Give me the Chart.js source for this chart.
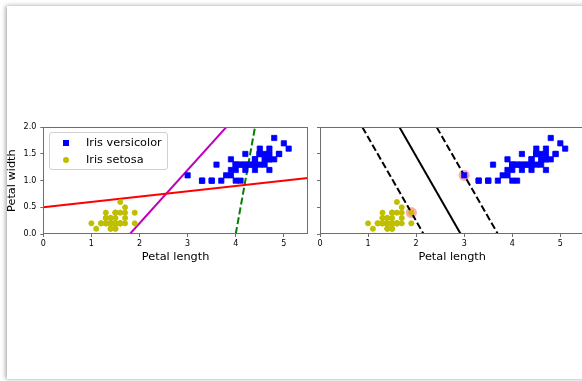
<!DOCTYPE html>
<html><head><meta charset="utf-8">
<script src="https://cdn.jsdelivr.net/npm/chart.js@4/dist/chart.umd.min.js"></script>
<style>
html,body{margin:0;padding:0;background:#fff;width:582px;height:381px;overflow:hidden;}
#card{position:absolute;left:7px;top:6px;width:640px;height:373px;background:#fff;
  box-shadow:-2px 0 4px rgba(0,0,0,0.25),0 -2px 5px rgba(0,0,0,0.08),0 1px 2px rgba(0,0,0,0.08);}
canvas{position:absolute;top:0;}
#c1{left:0;}
#c2{left:300px;}
#legend{position:absolute;left:49px;top:132px;width:119px;height:38px;box-sizing:border-box;
  border:1px solid #d0d0d0;border-radius:3px;background:rgba(255,255,255,0.85);
  font-family:"DejaVu Sans";font-size:11.3px;color:#000;}
.item{position:absolute;left:0;height:14px;line-height:14px;white-space:nowrap;}
.mk{position:absolute;left:13px;top:4px;width:6px;height:6px;}
.lbl{position:absolute;left:36px;top:0;}
</style></head>
<body>
<div id="card"></div>
<canvas id="c1" width="320" height="381"></canvas>
<canvas id="c2" width="290" height="381"></canvas>
<div id="legend"></div>
<script>
// ---- data (Iris petal length / width) ----
const versicolorLength = [4.7,4.5,4.9,4.0,4.6,4.5,4.7,3.3,4.6,3.9,3.5,4.2,4.0,4.7,3.6,4.4,4.5,4.1,4.5,3.9,4.8,4.0,4.9,4.7,4.3,4.4,4.8,5.0,4.5,3.5,3.8,3.7,3.9,5.1,4.5,4.5,4.7,4.4,4.1,4.0,4.4,4.6,4.0,3.3,4.2,4.2,4.2,4.3,3.0,4.1];
const versicolorWidth  = [1.4,1.5,1.5,1.3,1.5,1.3,1.6,1.0,1.3,1.4,1.0,1.5,1.0,1.4,1.3,1.4,1.5,1.0,1.5,1.1,1.8,1.3,1.5,1.2,1.3,1.4,1.4,1.7,1.5,1.0,1.1,1.0,1.2,1.6,1.5,1.6,1.5,1.3,1.3,1.3,1.2,1.4,1.2,1.0,1.3,1.2,1.3,1.3,1.1,1.3];
const setosaLength = [1.4,1.4,1.3,1.5,1.4,1.7,1.4,1.5,1.4,1.5,1.5,1.6,1.4,1.1,1.2,1.5,1.3,1.4,1.7,1.5,1.7,1.5,1.0,1.7,1.9,1.6,1.6,1.5,1.4,1.6,1.6,1.5,1.5,1.4,1.5,1.2,1.3,1.4,1.3,1.5,1.3,1.3,1.3,1.6,1.9,1.4,1.6,1.4,1.5,1.4];
const setosaWidth  = [0.2,0.2,0.2,0.2,0.2,0.4,0.3,0.2,0.2,0.1,0.2,0.2,0.1,0.1,0.2,0.4,0.4,0.3,0.3,0.3,0.2,0.4,0.2,0.5,0.2,0.2,0.4,0.2,0.2,0.2,0.2,0.4,0.1,0.2,0.2,0.2,0.2,0.1,0.2,0.2,0.3,0.3,0.2,0.6,0.4,0.3,0.2,0.2,0.2,0.2];
const supportLength = [1.9, 3.0];
const supportWidth  = [0.4, 1.1];
// line endpoints [x, y]
const greenLine   = [[4.0, 0.0], [4.4, 2.0]];
const magentaLine = [[1.8, 0.0], [3.8, 2.0]];
const redLine     = [[0.0, 0.5], [5.5, 1.05]];
const svmBoundary = [[1.654, 2.0], [2.927, 0.0]];
const svmUpper    = [[2.428, 2.0], [3.700, 0.0]];
const svmLower    = [[0.882, 2.0], [2.155, 0.0]];
const xTicks = [0, 1, 2, 3, 4, 5];
const yTicks = [0.0, 0.5, 1.0, 1.5, 2.0];
const xLabel = "Petal length";
const yLabel = "Petal width";
const seriesNames = ["Iris versicolor", "Iris setosa"];

// ---- helpers ----
const FONT = "DejaVu Sans";
const AX = "#6e6e6e";
const DASH = [7, 3];
const pts = (xs, ys) => xs.map((x, i) => ({x, y: ys[i]}));
const seg = s => s.map(p => ({x: p[0], y: p[1]}));
const lineDs = (s, color, dash) => ({type: 'scatter', data: seg(s), showLine: true, borderColor: color,
  backgroundColor: color, borderWidth: 2, pointRadius: 0, borderDash: dash || [], fill: false});
const versicolorDs = () => ({label: seriesNames[0], data: pts(versicolorLength, versicolorWidth), pointStyle: 'rect',
  pointRadius: 3.7, borderWidth: 0.8, backgroundColor: '#0000FF', borderColor: '#0000FF', showLine: false});
const setosaDs = () => ({label: seriesNames[1], data: pts(setosaLength, setosaWidth), pointStyle: 'circle',
  pointRadius: 2.6, borderWidth: 0.8, backgroundColor: '#BFBF00', borderColor: '#BFBF00', showLine: false});

const frame = {id: 'frame', afterDraw(c) {
  const a = c.chartArea, ctx = c.ctx;
  ctx.save(); ctx.strokeStyle = AX; ctx.lineWidth = 1;
  ctx.strokeRect(Math.round(a.left) + 0.5, Math.round(a.top) + 0.5, Math.round(a.right - a.left) - 1, Math.round(a.bottom - a.top) - 1);
  ctx.restore();
}};

function scales(yW, showY) {
  const grid = {display: true, drawOnChartArea: false, drawTicks: true, tickLength: 3, tickWidth: 1, tickColor: AX};
  return {
    x: {type: 'linear', min: 0, max: 5.5,
      afterBuildTicks: s => { s.ticks = xTicks.map(v => ({value: v})); },
      afterFit: s => { s.height = 30; },
      ticks: {font: {family: FONT, size: 8}, color: '#000', padding: 2, maxRotation: 0, callback: v => String(v)},
      grid, border: {display: false},
      title: {display: true, text: xLabel, font: {family: FONT, size: 11.3}, color: '#000', padding: 0}},
    y: {type: 'linear', min: 0, max: 2,
      afterBuildTicks: s => { s.ticks = yTicks.map(v => ({value: v})); },
      afterFit: s => { s.width = yW; },
      ticks: {display: showY, font: {family: FONT, size: 8}, color: '#000', padding: 4, callback: v => Number(v).toFixed(1)},
      grid, border: {display: false},
      title: {display: showY, text: yLabel, font: {family: FONT, size: 11.3}, color: '#000', padding: {top: 5, bottom: 0}}}
  };
}
const common = {responsive: false, animation: false, events: [],
  plugins: {legend: {display: false}, tooltip: {enabled: false}}};

const chart1 = new Chart(document.getElementById('c1'), {
  type: 'scatter',
  data: {datasets: [versicolorDs(), setosaDs(),
    lineDs(redLine, '#FF0000'), lineDs(magentaLine, '#BF00BF'), lineDs(greenLine, '#008000', DASH)]},
  options: Object.assign({}, common, {layout: {padding: {left: 0.3, top: 127.3, right: 12.1, bottom: 117}},
    scales: scales(43, true)}),
  plugins: [frame]
});

const chart2 = new Chart(document.getElementById('c2'), {
  type: 'scatter',
  data: {datasets: [versicolorDs(), setosaDs(),
    lineDs(svmBoundary, '#000000'), lineDs(svmUpper, '#000000', DASH), lineDs(svmLower, '#000000', DASH),
    {data: pts(supportLength, supportWidth), pointStyle: 'circle', pointRadius: 5.6, borderWidth: 0,
     backgroundColor: '#FFAAAA', showLine: false}]},
  options: Object.assign({}, common, {layout: {padding: {left: 10, top: 127.3, right: 5.4, bottom: 117}},
    scales: scales(10, false)}),
  plugins: [frame]
});

// legend built from the chart's own series
const lg = document.getElementById('legend');
chart1.data.datasets.slice(0, 2).forEach((d, i) => {
  const it = document.createElement('div');
  it.className = 'item';
  it.style.top = (2.5 + i * 17) + 'px';
  const mk = document.createElement('div');
  mk.className = 'mk';
  mk.style.background = d.backgroundColor;
  if (d.pointStyle === 'circle') mk.style.borderRadius = '50%';
  const tx = document.createElement('span');
  tx.className = 'lbl';
  tx.textContent = d.label;
  it.appendChild(mk); it.appendChild(tx); lg.appendChild(it);
});
</script>
</body></html>
